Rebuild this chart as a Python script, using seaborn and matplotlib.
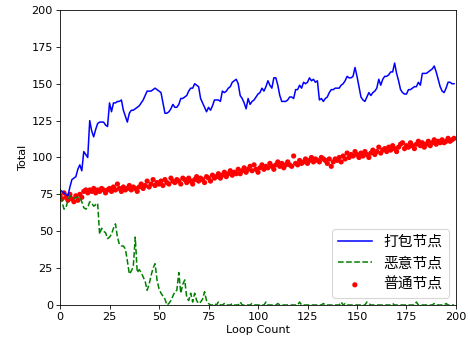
import numpy as np
import pandas as pd
import matplotlib
matplotlib.use("Agg")
import matplotlib.pyplot as plt
import seaborn as sns

plt.rcParams['font.family'] = ['DejaVu Sans', 'Noto Sans CJK SC']
plt.rcParams['font.size'] = 11

loop = list(range(200))

packing = [
    78, 77, 76, 75, 74, 80, 85, 86, 87, 92,
    95, 91, 104, 102, 100, 125, 118, 114, 119, 123,
    124, 124, 124, 122, 121, 137, 131, 137, 137, 138,
    138, 139, 132, 128, 124, 130, 132, 132, 133, 134,
    135, 137, 139, 142, 145, 145, 145, 146, 147, 146,
    145, 144, 137, 130, 130, 131, 133, 136, 134, 134,
    136, 140, 140, 141, 142, 145, 147, 147, 150, 149,
    148, 140, 137, 134, 131, 134, 132, 135, 139, 139,
    139, 138, 145, 144, 145, 147, 148, 151, 152, 153,
    150, 142, 140, 137, 133, 140, 136, 138, 139, 141,
    143, 144, 147, 145, 148, 152, 149, 147, 154, 154,
    149, 142, 138, 138, 138, 139, 141, 141, 140, 146,
    146, 149, 147, 151, 150, 151, 154, 152, 153, 151,
    152, 139, 140, 138, 140, 141, 144, 146, 146, 147,
    147, 147, 149, 150, 152, 155, 154, 154, 155, 161,
    155, 148, 141, 139, 138, 141, 144, 142, 144, 145,
    147, 153, 149, 153, 155, 155, 156, 158, 158, 164,
    157, 152, 146, 144, 143, 143, 146, 146, 147, 148,
    148, 151, 149, 157, 157, 157, 158, 159, 160, 162,
    158, 153, 148, 145, 144, 147, 151, 151, 150, 150,
]

malicious = [
    79, 70, 65, 66, 71, 74, 73, 72, 73, 73,
    73, 70, 66, 65, 66, 70, 69, 67, 68, 69,
    48, 52, 50, 49, 45, 46, 48, 52, 55, 46,
    41, 40, 40, 38, 30, 21, 23, 26, 46, 22,
    24, 22, 19, 16, 10, 14, 20, 25, 28, 17,
    11, 8, 6, 4, 0, 1, 3, 6, 9, 10,
    22, 8, 14, 17, 5, 3, 8, 2, 8, 3,
    1, 2, 4, 9, 3, 1, 0, 0, 1, 0,
    2, 0, 0, 1, 0, 0, 0, 1, 0, 0,
    0, 2, 0, 0, 0, 0, 0, 1, 0, 0,
    0, 0, 0, 0, 2, 0, 0, 0, 0, 0,
    1, 0, 0, 0, 0, 0, 0, 0, 0, 0,
    0, 2, 0, 0, 0, 0, 0, 0, 0, 0,
    0, 0, 0, 1, 0, 0, 0, 0, 0, 0,
    0, 0, 2, 0, 1, 0, 0, 0, 0, 0,
    0, 0, 0, 0, 0, 2, 1, 0, 0, 0,
    0, 0, 0, 0, 0, 0, 0, 0, 1, 0,
    0, 0, 0, 0, 0, 0, 0, 0, 0, 0,
    2, 0, 0, 0, 0, 0, 0, 0, 0, 1,
    0, 0, 0, 0, 0, 1, 0, 0, 0, 0,
]

normal = [
    74, 72, 76, 73, 71, 75, 72, 70, 74, 71,
    75, 73, 77, 78, 76, 78, 77, 79, 76, 78,
    77, 79, 78, 76, 78, 79, 77, 80, 78, 82,
    79, 77, 80, 78, 79, 81, 78, 80, 79, 77,
    80, 82, 79, 81, 84, 80, 82, 85, 81, 83,
    82, 84, 81, 85, 83, 82, 86, 84, 83, 85,
    84, 82, 86, 85, 83, 86, 84, 82, 85, 87,
    84, 86, 85, 83, 87, 86, 84, 88, 86, 87,
    89, 86, 88, 90, 87, 89, 91, 88, 90, 89,
    92, 89, 91, 93, 90, 92, 94, 91, 95, 92,
    90, 93, 95, 92, 94, 93, 96, 94, 92, 95,
    97, 94, 96, 93, 95, 97, 95, 94, 101, 96,
    95, 98, 96, 97, 99, 96, 98, 100, 97, 99,
    98, 97, 100, 99, 98, 96, 99, 94, 97, 99,
    98, 100, 97, 101, 99, 103, 100, 102, 101, 104,
    102, 100, 103, 101, 104, 102, 100, 103, 105, 102,
    104, 107, 103, 105, 106, 104, 107, 105, 108, 106,
    104, 107, 109, 110, 106, 108, 107, 110, 108, 106,
    109, 111, 108, 110, 107, 109, 111, 108, 110, 112,
    109, 111, 110, 112, 110, 111, 113, 111, 112, 113,
]

labels = ['打包节点', '恶意节点', '普通节点']

DPI = 470 / 6.4
fig = plt.figure(figsize=(6.4, 344 / DPI), dpi=DPI)
ax = fig.add_axes([0.1277, 0.1134, 0.8425, 0.8576])

sns.lineplot(x=loop, y=packing, ax=ax, color='blue', linewidth=1.5, label=labels[0])
sns.lineplot(x=loop, y=malicious, ax=ax, color='green', linewidth=1.5,
             linestyle='--', label=labels[1])
sns.scatterplot(x=loop, y=normal, ax=ax, color='red', s=26, edgecolor='none',
                label=labels[2])

ax.set_xlim(0, 200)
ax.set_ylim(0, 200)
ax.set_xticks([0, 25, 50, 75, 100, 125, 150, 175, 200])
ax.set_yticks([0, 25, 50, 75, 100, 125, 150, 175, 200])
ax.set_xlabel('Loop Count', labelpad=3)
ax.set_ylabel('Total', labelpad=3)
ax.legend(loc='lower right', handlelength=2.3, labelspacing=0.5,
          prop={'family': ['Noto Sans CJK SC', 'DejaVu Sans'], 'size': 14.5})

fig.savefig('out.png', dpi=DPI)
